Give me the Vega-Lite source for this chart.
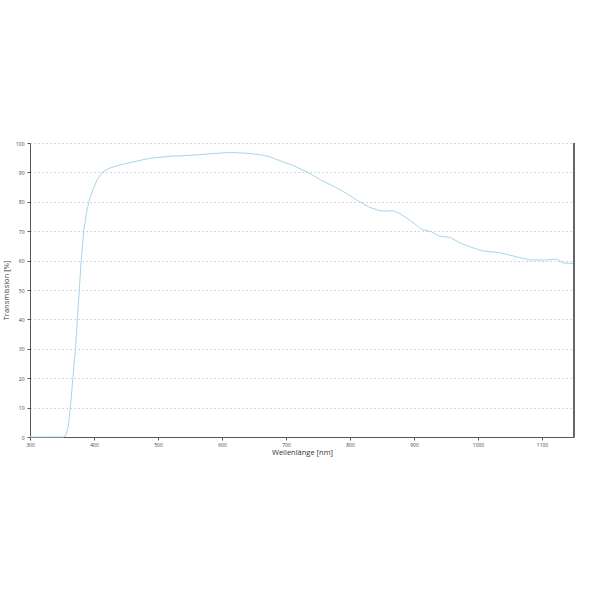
{
  "$schema": "https://vega.github.io/schema/vega-lite/v6.json",
  "autosize": "none",
  "width": 544,
  "height": 294,
  "padding": {"left": 30, "top": 143, "right": 26, "bottom": 163},
  "background": "white",
  "config": {
    "view": {"stroke": null},
    "font": "Open Sans",
    "axis": {
      "labelFont": "Open Sans",
      "titleFont": "Open Sans",
      "labelFontSize": 5,
      "labelColor": "#444",
      "labelFlush": false,
      "titleFontSize": 7.5,
      "titleFontWeight": "normal",
      "titleColor": "#333",
      "domainColor": "#555",
      "tickColor": "#555",
      "gridColor": "#c8c8c8",
      "gridDash": [1.5, 2.5],
      "gridWidth": 1
    }
  },
  "data": {
    "values": [
      {"nm": 300, "t": 0}, {"nm": 320, "t": 0}, {"nm": 340, "t": 0}, {"nm": 352, "t": 0},
      {"nm": 356, "t": 0.5}, {"nm": 360, "t": 4}, {"nm": 363, "t": 10}, {"nm": 367, "t": 20},
      {"nm": 371, "t": 30}, {"nm": 374, "t": 40}, {"nm": 377, "t": 50}, {"nm": 380, "t": 60},
      {"nm": 384, "t": 70}, {"nm": 388, "t": 76}, {"nm": 392, "t": 80}, {"nm": 398, "t": 84},
      {"nm": 405, "t": 87.5}, {"nm": 413, "t": 90}, {"nm": 425, "t": 91.5}, {"nm": 440, "t": 92.5},
      {"nm": 460, "t": 93.5}, {"nm": 487, "t": 94.8}, {"nm": 520, "t": 95.5}, {"nm": 550, "t": 95.8},
      {"nm": 580, "t": 96.3}, {"nm": 612, "t": 96.8}, {"nm": 640, "t": 96.5}, {"nm": 660, "t": 96},
      {"nm": 675, "t": 95.3}, {"nm": 690, "t": 94}, {"nm": 710, "t": 92.5}, {"nm": 734, "t": 90},
      {"nm": 753, "t": 87.6}, {"nm": 775, "t": 85.2}, {"nm": 794, "t": 82.9}, {"nm": 815, "t": 80},
      {"nm": 830, "t": 78.2}, {"nm": 846, "t": 77}, {"nm": 857, "t": 76.8}, {"nm": 867, "t": 77},
      {"nm": 877, "t": 76.1}, {"nm": 893, "t": 73.8}, {"nm": 912, "t": 70.6}, {"nm": 927, "t": 69.8},
      {"nm": 940, "t": 68.3}, {"nm": 956, "t": 67.9}, {"nm": 974, "t": 65.8}, {"nm": 990, "t": 64.5},
      {"nm": 1007, "t": 63.3}, {"nm": 1034, "t": 62.7}, {"nm": 1060, "t": 61.3}, {"nm": 1081, "t": 60.2},
      {"nm": 1107, "t": 60.2}, {"nm": 1123, "t": 60.5}, {"nm": 1133, "t": 59.2}, {"nm": 1150, "t": 59.0}
    ]
  },
  "layer": [
    {
      "mark": {"type": "line", "color": "#a8d6ea", "strokeWidth": 1},
      "encoding": {
        "x": {
          "field": "nm",
          "type": "quantitative",
          "scale": {"domain": [300, 1150], "nice": false},
          "axis": {
            "values": [300, 400, 500, 600, 700, 800, 900, 1000, 1100],
            "format": "d",
            "grid": false,
            "tickSize": 3,
            "labelPadding": 2,
            "title": "Wellenlänge [nm]",
            "titlePadding": 1
          }
        },
        "y": {
          "field": "t",
          "type": "quantitative",
          "scale": {"domain": [0, 100], "nice": false},
          "axis": {
            "values": [0, 10, 20, 30, 40, 50, 60, 70, 80, 90, 100],
            "format": "d",
            "tickSize": 3,
            "labelPadding": 3,
            "title": "Transmission [%]",
            "titlePadding": 5
          }
        }
      }
    },
    {
      "mark": {"type": "rule", "color": "#666", "strokeWidth": 1},
      "encoding": {
        "x": {"datum": 1150, "type": "quantitative"}
      }
    }
  ]
}
